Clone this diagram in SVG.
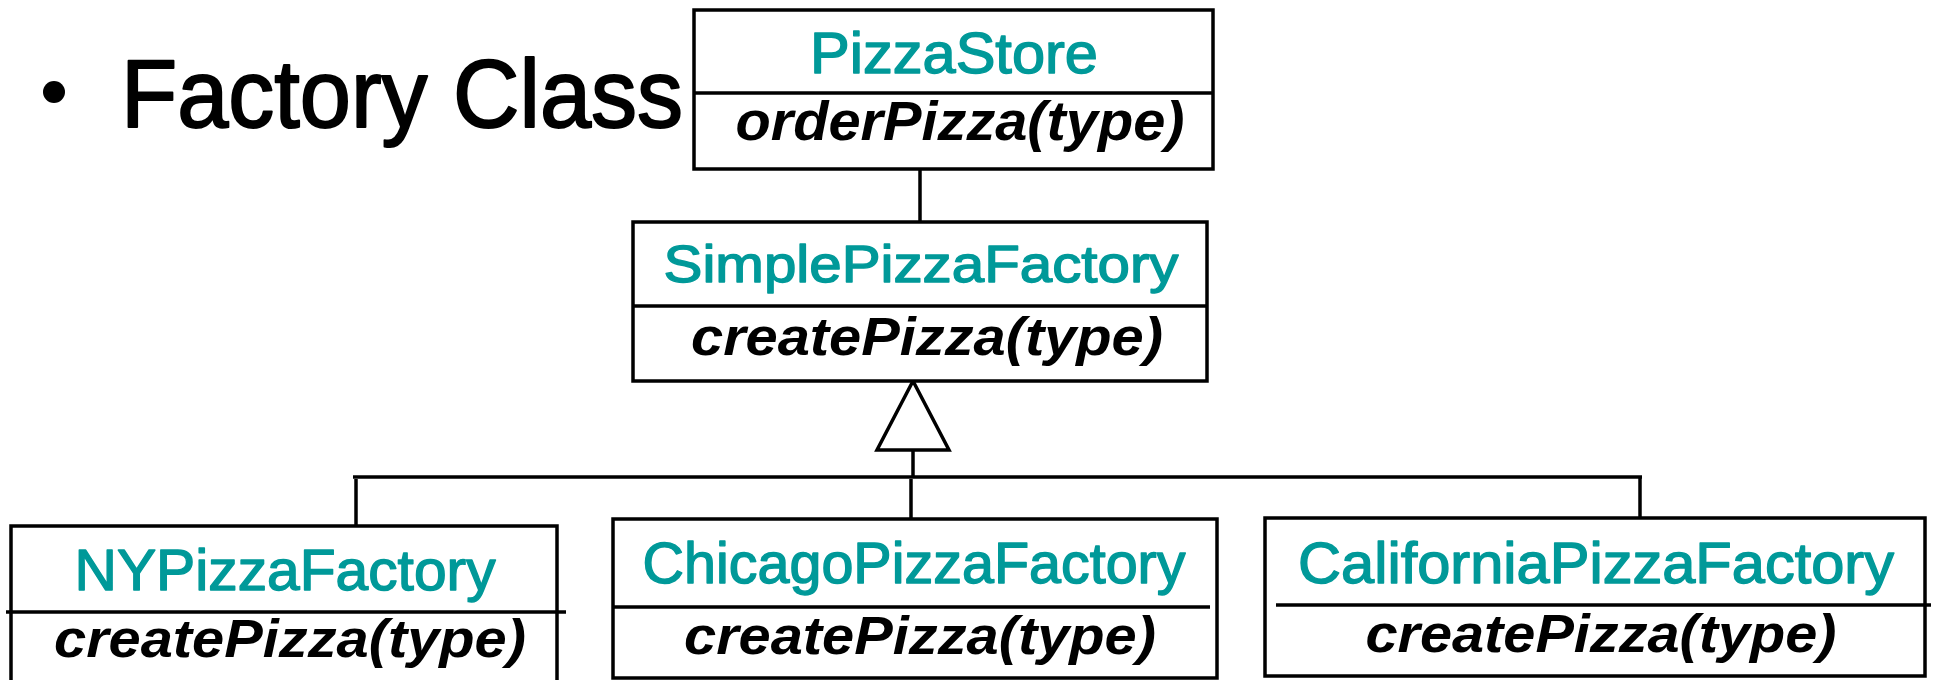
<svg xmlns="http://www.w3.org/2000/svg" width="1934" height="680" viewBox="0 0 1934 680">
  <style>
    .box { fill: #ffffff; stroke: #000000; stroke-width: 3.5; }
    .sep { stroke: #000000; stroke-width: 3.5; fill: none; }
    .wire { stroke: #000000; stroke-width: 3.5; fill: none; }
    .name { font-family: "Liberation Sans", Arial, sans-serif; fill: #009999; stroke: #009999; stroke-width: 1.4; stroke-linejoin: round; text-anchor: middle; }
    .op { font-family: "Liberation Sans", Arial, sans-serif; font-weight: bold; font-style: italic; fill: #000000; text-anchor: middle; }
    .bullet { font-family: "Liberation Sans", Arial, sans-serif; fill: #000000; stroke: #000000; stroke-width: 2; stroke-linejoin: round; }
  </style>

  <!-- slide bullet -->
  <g id="heading">
    <circle cx="54" cy="92" r="11" fill="#000000"/>
    <text class="bullet" x="121" y="127" font-size="96" textLength="562" lengthAdjust="spacingAndGlyphs">Factory Class</text>
  </g>

  <!-- connectors -->
  <g id="connectors">
    <line class="wire" x1="920" y1="169" x2="920" y2="222"/>
    <polygon class="wire" points="913,381 877,450 949,450" fill="#ffffff"/>
    <line class="wire" x1="913" y1="450" x2="913" y2="477"/>
    <line class="wire" x1="353" y1="477" x2="1642" y2="477"/>
    <line class="wire" x1="356" y1="479" x2="356" y2="526"/>
    <line class="wire" x1="911" y1="479" x2="911" y2="519"/>
    <line class="wire" x1="1640" y1="477" x2="1640" y2="518"/>
  </g>

  <g id="PizzaStore">
    <rect class="box" x="694" y="10" width="519" height="159"/>
    <line class="sep" x1="694" y1="93" x2="1213" y2="93"/>
    <text class="name" x="954" y="73" font-size="57" textLength="288" lengthAdjust="spacingAndGlyphs">PizzaStore</text>
    <text class="op" x="960" y="140" font-size="55" textLength="449" lengthAdjust="spacingAndGlyphs">orderPizza(type)</text>
  </g>

  <g id="SimplePizzaFactory">
    <rect class="box" x="633" y="222" width="574" height="159"/>
    <line class="sep" x1="633" y1="306" x2="1207" y2="306"/>
    <text class="name" x="921" y="282" font-size="52" textLength="515" lengthAdjust="spacingAndGlyphs">SimplePizzaFactory</text>
    <text class="op" x="927" y="355" font-size="54" textLength="472" lengthAdjust="spacingAndGlyphs">createPizza(type)</text>
  </g>

  <g id="NYPizzaFactory">
    <rect class="box" x="11" y="526" width="546" height="180"/>
    <line class="sep" x1="6" y1="612" x2="566" y2="612"/>
    <text class="name" x="285" y="590" font-size="57" textLength="421" lengthAdjust="spacingAndGlyphs">NYPizzaFactory</text>
    <text class="op" x="290" y="657" font-size="53" textLength="472" lengthAdjust="spacingAndGlyphs">createPizza(type)</text>
  </g>

  <g id="ChicagoPizzaFactory">
    <rect class="box" x="613" y="519" width="604" height="159"/>
    <line class="sep" x1="614" y1="607" x2="1210" y2="607"/>
    <text class="name" x="914" y="583" font-size="57" textLength="543" lengthAdjust="spacingAndGlyphs">ChicagoPizzaFactory</text>
    <text class="op" x="920" y="654" font-size="53" textLength="472" lengthAdjust="spacingAndGlyphs">createPizza(type)</text>
  </g>

  <g id="CaliforniaPizzaFactory">
    <rect class="box" x="1265" y="518" width="660" height="158"/>
    <line class="sep" x1="1276" y1="605" x2="1931" y2="605"/>
    <text class="name" x="1596" y="583" font-size="58" textLength="596" lengthAdjust="spacingAndGlyphs">CaliforniaPizzaFactory</text>
    <text class="op" x="1601" y="652" font-size="53" textLength="471" lengthAdjust="spacingAndGlyphs">createPizza(type)</text>
  </g>
</svg>
